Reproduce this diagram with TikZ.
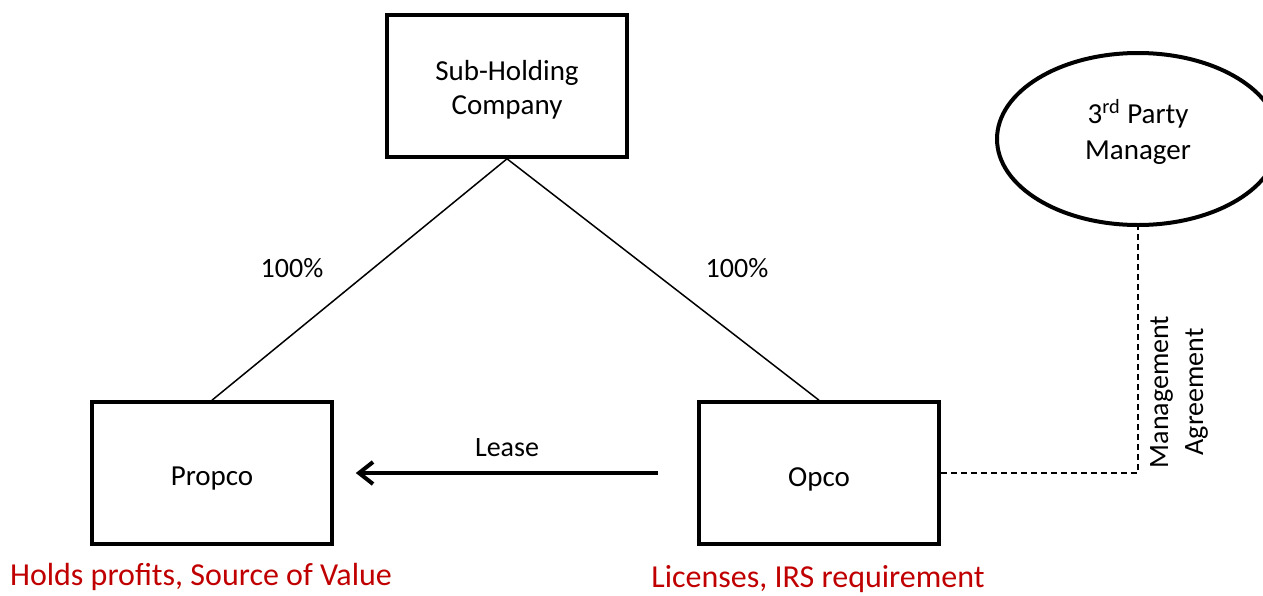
\documentclass[tikz,border=0pt]{standalone}
\usepackage{fontspec}
\setmainfont{Carlito}
\usetikzlibrary{shapes, arrows.meta}
\definecolor{remarkred}{RGB}{192,0,0}

\begin{document}
\begin{tikzpicture}[x=0.5pt, y=-0.5pt,
		company/.style={draw, shape=rectangle, line width=1.8pt, minimum width=120pt, minimum height=71pt},
		manager/.style={draw, shape=ellipse, line width=2pt, minimum width=141pt, minimum height=86pt},
		caption/.style={align=center, font=\fontsize{14.5}{17}\selectfont},
		note/.style={font=\fontsize{14}{17.5}\selectfont},
		remark/.style={text=remarkred, font=\fontsize{16}{19}\selectfont}]
		\useasboundingbox (0,0) rectangle (1263,595);
		\clip (0,0) rectangle (1263,595);

		% the three companies, text set a little below centre
		\node (sub) at (507,86) [company, label={[caption, yshift=-2pt]center:Sub-Holding\\Company}] {};
		\node (propco) at (212,473) [company, label={[caption, yshift=-3pt]center:Propco}] {};
		\node (opco) at (819,473) [company, label={[caption, yshift=-3pt]center:Opco}] {};
		\node (mgr) at (1138,139) [manager, label={[caption, font=\fontsize{14.5}{18}\selectfont, yshift=3.5pt]center:3\textsuperscript{rd} Party\\Manager}] {};

		\node (ownp) at (292,268) [note] {100\%};
		\node (owno) at (737,268) [note] {100\%};
		\node (lease) at (507,448) [note] {Lease};
		\node (agree) at (1179,392) [note, rotate=90, align=center] {Management\\Agreement};

		\node (propnote) at (201,577) [remark] {Holds profits, Source of Value};
		\node (opnote) at (818,579) [remark] {Licenses, IRS requirement};

		\draw [line width=0.75pt]       (sub.south) -- (propco.north);
		\draw [line width=0.75pt]       (sub.south) -- (opco.north);
		\draw [line width=2pt, -{Straight Barb[length=7pt, width=11pt]}, shorten <=19.5pt, shorten >=11pt]       (opco) -- (propco);
		\draw [line width=1pt, dash pattern=on 3pt off 2pt]       (opco.east) -| (mgr.south);
	\end{tikzpicture}
\end{document}
